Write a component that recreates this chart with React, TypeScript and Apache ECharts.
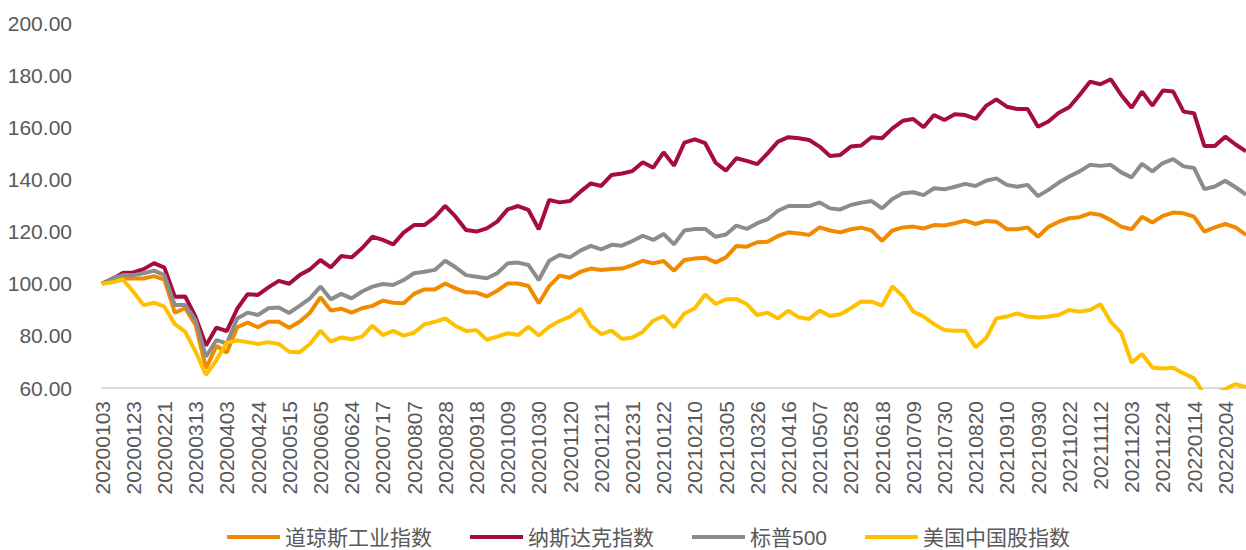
import React, { useEffect, useRef } from "react";
import * as echarts from "echarts";

const dates: string[] = [
  "20200103","20200110","20200117","20200123","20200207","20200214","20200221","20200228","20200306","20200313",
  "20200320","20200327","20200403","20200410","20200417","20200424","20200430","20200508","20200515","20200522",
  "20200529","20200605","20200612","20200619","20200624","20200703","20200710","20200717","20200724","20200731",
  "20200807","20200814","20200821","20200828","20200904","20200911","20200918","20200925","20200930","20201009",
  "20201016","20201023","20201030","20201106","20201113","20201120","20201127","20201204","20201211","20201218",
  "20201225","20201231","20210108","20210115","20210122","20210129","20210205","20210210","20210219","20210226",
  "20210305","20210312","20210319","20210326","20210402","20210409","20210416","20210423","20210430","20210507",
  "20210514","20210521","20210528","20210604","20210611","20210618","20210625","20210702","20210709","20210716",
  "20210723","20210730","20210806","20210813","20210820","20210827","20210903","20210910","20210917","20210924",
  "20210930","20211008","20211015","20211022","20211029","20211105","20211112","20211119","20211126","20211203",
  "20211210","20211217","20211224","20211231","20220107","20220114","20220121","20220128","20220204","20220211",
  "20220218",
];

const dowJones: number[] = [
  100.0,102.0,102.0,102.0,102.0,102.9,101.6,88.9,90.6,84.2,
  67.5,76.1,73.6,83.3,85.1,83.3,85.4,85.4,83.1,85.4,
  88.9,94.8,89.7,90.4,88.9,90.6,91.5,93.5,92.7,92.5,
  96.1,97.8,97.8,100.1,98.2,96.7,96.6,95.1,97.3,100.1,
  100.1,99.1,92.5,99.1,103.1,102.3,104.6,105.8,105.3,105.6,
  105.8,107.1,108.8,107.8,108.7,105.0,109.1,109.7,110.0,108.2,
  110.1,114.5,114.2,115.9,116.1,118.3,119.7,119.3,118.7,121.6,
  120.4,119.7,120.9,121.5,120.4,116.5,120.4,121.6,121.9,121.2,
  122.5,122.3,123.2,124.2,122.9,124.1,123.8,120.9,120.9,121.6,
  118.0,121.8,123.8,125.1,125.5,127.0,126.4,124.4,121.9,120.9,
  125.7,123.5,126.0,127.3,127.0,125.7,120.0,121.6,122.9,121.6,
  118.7,
];

const nasdaq: number[] = [
  100.0,101.8,104.1,104.3,105.6,107.9,106.2,95.0,95.1,87.3,
  76.3,83.2,81.8,90.4,96.0,95.7,98.6,101.1,100.0,103.3,
  105.5,109.1,106.3,110.6,110.1,113.6,118.0,116.8,115.1,119.6,
  122.5,122.5,125.5,129.9,125.7,120.6,120.0,121.2,123.8,128.5,
  129.8,128.3,120.9,132.1,131.2,131.7,135.3,138.5,137.5,141.7,
  142.3,143.2,146.6,144.5,150.4,145.3,154.1,155.4,153.9,146.4,
  143.4,148.1,147.1,145.9,150.0,154.5,156.2,155.8,155.1,152.6,
  149.0,149.4,152.6,153.0,156.2,155.8,159.6,162.5,163.2,160.0,
  164.7,162.8,165.0,164.7,163.2,168.2,170.7,167.9,167.0,167.0,
  160.2,162.2,165.6,167.7,172.4,177.5,176.5,178.4,172.4,167.5,
  173.7,168.3,174.1,173.7,166.0,165.4,152.8,152.8,156.4,153.4,
  150.8,
];

const sp500: number[] = [
  100.0,102.0,103.3,103.3,104.0,105.0,103.3,91.8,91.8,86.0,
  72.0,78.4,77.1,86.7,88.9,88.0,90.6,90.9,88.8,91.5,
  94.4,98.9,94.0,96.1,94.4,97.0,98.9,99.9,99.5,101.4,
  104.0,104.6,105.3,108.8,106.3,103.3,102.7,102.1,104.0,107.8,
  108.1,107.2,101.4,108.8,111.0,110.1,112.7,114.5,113.2,114.9,
  114.6,116.4,118.4,116.8,119.1,115.1,120.4,121.0,121.0,118.0,
  118.9,122.3,121.0,123.2,124.7,128.0,129.8,129.8,129.8,131.2,
  128.9,128.5,130.2,131.1,131.7,128.9,132.5,134.7,135.1,134.0,
  136.6,136.2,137.2,138.3,137.5,139.5,140.4,137.9,137.2,137.9,
  133.6,136.0,138.8,141.1,143.1,145.6,145.2,145.6,142.7,140.8,
  146.0,143.1,146.3,147.8,145.0,144.4,136.3,137.3,139.5,137.0,
  134.2,
];

const usChina: number[] = [
  100.0,100.6,101.6,97.0,91.8,92.7,91.2,84.5,81.6,73.9,
  65.0,70.7,77.4,78.2,77.6,76.9,77.6,76.9,73.9,73.7,
  76.9,82.0,77.8,79.4,78.7,79.7,83.9,80.3,81.9,80.1,
  81.2,84.4,85.4,86.7,83.8,81.9,82.2,78.5,79.7,81.0,
  80.3,83.5,80.1,83.5,85.7,87.4,90.4,83.8,80.7,82.0,
  78.8,79.4,81.6,85.8,87.6,83.3,88.6,90.6,95.9,92.2,
  94.0,94.1,92.2,88.0,88.9,86.7,89.7,87.1,86.5,89.7,
  87.6,88.3,90.6,93.2,93.1,91.6,98.9,95.3,89.3,87.4,
  84.5,82.2,82.0,82.0,75.6,79.1,86.7,87.4,88.6,87.4,
  87.0,87.4,88.0,89.9,89.3,89.9,92.1,85.4,81.2,69.7,
  73.0,67.9,67.5,67.8,65.6,63.7,57.5,57.8,59.6,61.5,
  60.4,
];

const seriesNames = ["道琼斯工业指数", "纳斯达克指数", "标普500", "美国中国股指数"];
const seriesColors = ["#F28A00", "#A50D3A", "#8C8C8C", "#FFC000"];

const FONT = "'Liberation Sans', Arial, 'Noto Sans CJK SC', sans-serif";

export default function App() {
  const ref = useRef<HTMLDivElement>(null);

  useEffect(() => {
    if (!ref.current) return;
    const chart = echarts.init(ref.current, undefined, { renderer: "svg" });
    const datasets = [dowJones, nasdaq, sp500, usChina];
    chart.setOption({
      animation: false,
      backgroundColor: "#ffffff",
      grid: { left: 102, right: -3, top: 23, bottom: 162, containLabel: false },
      legend: {
        data: seriesNames,
        left: 227,
        top: 524,
        padding: 0,
        icon: "rect",
        itemWidth: 53,
        itemHeight: 4,
        itemGap: 38,
        textStyle: { color: "#595959", fontSize: 21, lineHeight: 26, fontFamily: FONT },
      },
      xAxis: {
        type: "category",
        data: dates,
        boundaryGap: false,
        axisLine: { show: true, lineStyle: { color: "#D9D9D9", width: 2 } },
        axisTick: { show: false },
        splitLine: { show: false },
        axisLabel: {
          interval: 2,
          rotate: 90,
          margin: 13,
          color: "#595959",
          fontSize: 21,
          fontFamily: FONT,
        },
      },
      yAxis: {
        type: "value",
        min: 60,
        max: 200,
        interval: 20,
        axisLine: { show: false },
        axisTick: { show: false },
        splitLine: { show: false },
        axisLabel: {
          margin: 30,
          color: "#595959",
          fontSize: 21,
          fontFamily: FONT,
          formatter: (v: number) => v.toFixed(2),
        },
      },
      series: seriesNames.map((name, i) => ({
        name,
        type: "line",
        data: datasets[i],
        symbol: "none",
        smooth: false,
        clip: true,
        lineStyle: { color: seriesColors[i], width: 4 },
        itemStyle: { color: seriesColors[i] },
      })),
    });
    return () => chart.dispose();
  }, []);

  return (
    <div
      ref={ref}
      style={{ position: "absolute", left: 0, top: 0, width: 1246, height: 550 }}
    />
  );
}
